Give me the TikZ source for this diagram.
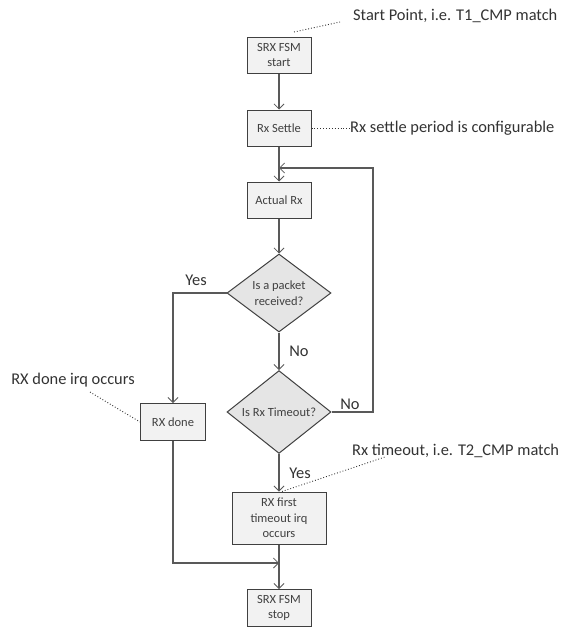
\documentclass[tikz,border=0pt]{standalone}
\usepackage{fontspec}
\setmainfont{Carlito}
\usetikzlibrary{shapes.geometric,arrows.meta}

\tikzset{
  box/.style={draw=black!75, fill=black!5, line width=1pt, minimum width=64pt,
    minimum height=36pt, inner sep=1pt, align=center, text=black!75,
    font=\fontsize{12.5}{15.5}\selectfont},
  decision/.style={diamond, draw=black!75, fill=black!10, line width=1pt,
    minimum width=104pt, minimum height=78pt, inner sep=0pt, align=center,
    text=black!75, font=\fontsize{12.5}{16}\selectfont},
  flow/.style={draw=black!65, line width=1.2pt,
    -{Straight Barb[length=5pt,width=10pt,line width=0.8pt]}},
  remark/.style={anchor=west, inner sep=0pt, text=black!80,
    font=\fontsize{16.4}{18}\selectfont},
  answer/.style={inner sep=0pt, text=black!80, font=\fontsize{16.4}{18}\selectfont},
  note/.style={dotted, line width=0.9pt, black!80}
}

\begin{document}
\begin{tikzpicture}[x=1pt, y=-1pt]
\useasboundingbox[fill=white] (0,0) rectangle (569,637);
% flow boxes
\node[box] (start) at (279,55) {SRX FSM\\start};
\node[box] (settle) at (279,128) {Rx Settle};
\node[box] (actual) at (279,200) {Actual Rx};
\node[decision] (packet) at (279,293) {Is a packet\\received?};
\node[decision] (timeout) at (279,412) {Is Rx Timeout?};
\node[box, minimum width=65pt, minimum height=37pt] (done) at (173,422) {RX done};
\node[box, minimum width=94pt, minimum height=52pt] (first) at (279,518) {RX first\\timeout irq\\occurs};
\node[box, minimum height=37pt] (stop) at (279,608) {SRX FSM\\stop};
\coordinate (loopin) at (279,168);
\coordinate (merge) at (279,563);
% connectors
\draw[flow] (start) -- (settle);
\draw[flow] (settle) -- (actual);
\draw[flow] (actual) -- (packet);
\draw[flow] (packet) -- (timeout);
\draw[flow] (packet.west) -| (done.north);
\draw[flow] (timeout.east) -- (373,412) |- (loopin);
\draw[flow] (timeout) -- (first);
\draw[flow] (done.south) |- (merge);
\draw[flow] (first) -- (stop);
% answers
\node[answer] (yes1) at (196,280) {Yes};
\node[answer] (no1) at (299,351) {No};
\node[answer] (no2) at (350,404) {No};
\node[answer] (yes2) at (300,473) {Yes};
% remarks
\node[remark] (startnote) at (353,16) {Start Point, i.e. T1\_CMP match};
\node[remark] (settlenote) at (350,128) {Rx settle period is configurable};
\node[remark, anchor=center] (donenote) at (73,380) {RX done irq occurs};
\node[remark] (timeoutnote) at (352,451) {Rx timeout, i.e. T2\_CMP match};
\draw[note] (294,32) -- (340,22);
\draw[note] (settle.east) -- (settlenote.west);
\draw[note] (90,392) -- (done.west);
\draw[note] (first.north) ++(3,0) -- (385,457);
\end{tikzpicture}
\end{document}
